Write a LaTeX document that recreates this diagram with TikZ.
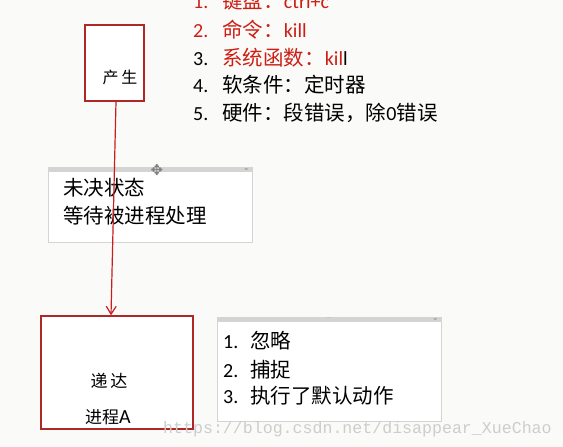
\documentclass[tikz,border=0pt]{standalone}
\usepackage{fontspec}
\setmainfont{Carlito}
\newfontfamily\cjk{Noto Sans CJK SC}
\newfontfamily\wmfont{Liberation Mono}
\newfontfamily\symfont{DejaVu Sans}
\usetikzlibrary{arrows.meta}
\definecolor{bgc}{RGB}{250,250,248}
\definecolor{boxred}{RGB}{175,40,40}
\definecolor{linered}{RGB}{200,30,30}
\definecolor{txtred}{RGB}{205,30,20}
\definecolor{panelgray}{RGB}{212,212,212}
\definecolor{bargray}{RGB}{212,212,212}
\definecolor{wmgray}{RGB}{205,205,205}
\newcommand\zh[1]{{\fontsize{20.5}{24}\cjk #1}}
\begin{document}
\begin{tikzpicture}[x=1pt,y=-1pt,
  redbox/.style={draw=boxred,line width=1.4pt,fill=white,inner sep=0pt},
  panel/.style={draw=panelgray,line width=0.8pt,fill=white,inner sep=0pt},
  item/.style={anchor=base west,inner sep=0pt,font=\fontsize{20}{24}\selectfont},
  zhtext/.style={anchor=base west,inner sep=0pt,font=\fontsize{20.5}{24}\cjk},
  boxtext/.style={anchor=base,inner sep=0pt,font=\fontsize{16}{20}\cjk}]
\fill[bgc] (0,0) rectangle (563,447);
\useasboundingbox (0,0) rectangle (563,447);

% top list
\node[item,text=txtred] (l1) at (193,9) {1.\hspace{14pt}\zh{键盘：}ctrl+c};
\node[item,text=txtred] (l2) at (193,37) {2.\hspace{14pt}\zh{命令：}kill};
\node[item] (l3) at (193,65) {3.\hspace{14pt}\textcolor{txtred}{\zh{系统函数：}kil}l};
\node[item] (l4) at (193,92) {4.\hspace{14pt}\zh{软条件：定时器}};
\node[item] (l5) at (193,120) {5.\hspace{14pt}\zh{硬件：段错误，除}0\zh{错误}};

% producing box
\node[redbox,minimum width=59pt,minimum height=76pt] (chan) at (114.5,63) {};
\node[boxtext] (chant) at (120,83) {产\hspace{3pt}生};

% pending panel
\node[panel,minimum width=204pt,minimum height=75pt] (pend) at (150,204.5) {};
\fill[bargray] (pend.north west) rectangle ([yshift=-5pt]pend.north east);
\node[inner sep=0pt,font=\fontsize{15}{15}\symfont,text=gray] (mv) at (157,170) {✥};
\node[inner sep=0pt,font=\fontsize{4}{4}\symfont,text=gray!80] (pa) at ([xshift=-6pt,yshift=-2.5pt]pend.north east) {◂▸};
\node[zhtext] (p1) at (63,195) {未决状态};
\node[zhtext] (p2) at (63,223) {等待被进程处理};

% process A box
\node[redbox,minimum width=152pt,minimum height=113pt] (boxA) at (117,372.5) {};
\node[boxtext,font=\fontsize{17}{20}\cjk] (a1) at (109,387) {递\hspace{3pt}达};
\node[boxtext,font=\fontsize{17}{20}\cjk] (a2) at (108,423) {进程\fontsize{20}{24}\rmfamily A};

% arrow
\draw[linered,line width=1.2pt,-{Straight Barb[length=8pt,width=10pt]}]
  ([xshift=1.5pt]chan.south) -- ([xshift=-6pt]boxA.north);

% handling panel
\node[panel,minimum width=224pt,minimum height=104pt] (hand) at (329,369) {};
\fill[bargray] (hand.north west) rectangle ([yshift=-5pt]hand.north east);
\node[inner sep=0pt,font=\fontsize{4}{4}\symfont,text=gray!80] (hd) at ([yshift=-2.5pt]hand.north) {····};
\node[inner sep=0pt,font=\fontsize{4}{4}\symfont,text=gray!80] (ha) at ([xshift=-6pt,yshift=-2.5pt]hand.north east) {◂▸};
\node[item] (h1) at (223,348) {1.\hspace{12pt}\zh{忽略}};
\node[item] (h2) at (223,377) {2.\hspace{12pt}\zh{捕捉}};
\node[item] (h3) at (223,403) {3.\hspace{12pt}\zh{执行了默认动作}};

% watermark
\node[anchor=base west,inner sep=0pt,font=\fontsize{16.6}{20}\wmfont,text=wmgray] (wm) at (163,433) {https://blog.csdn.net/disappear\_XueChao};
\end{tikzpicture}
\end{document}
